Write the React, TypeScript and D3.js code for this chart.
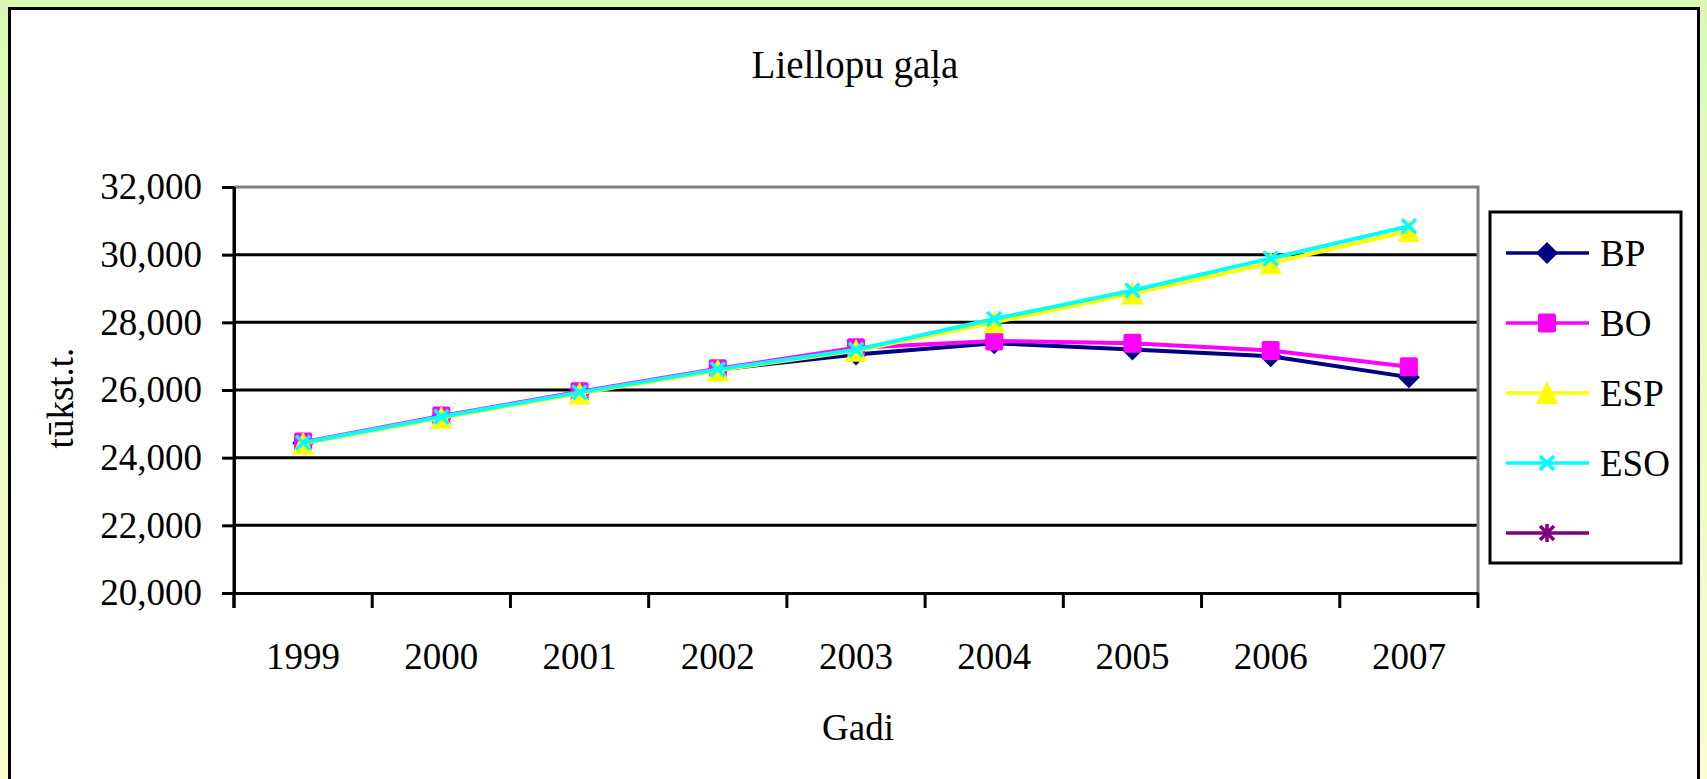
import React, { useEffect, useRef } from 'react';
import * as d3 from 'd3';

const years = ['1999', '2000', '2001', '2002', '2003', '2004', '2005', '2006', '2007'];
const bp = [24430, 25200, 25920, 26600, 27050, 27380, 27200, 27000, 26380];
const bo = [24460, 25230, 25950, 26630, 27250, 27450, 27380, 27170, 26690];
const esp = [24420, 25180, 25900, 26580, 27160, 28000, 28850, 29750, 30700];
const eso = [24440, 25210, 25930, 26610, 27190, 28100, 28940, 29890, 30840];
const yTicks = [20000, 22000, 24000, 26000, 28000, 30000, 32000];

const seriesList = [
  { name: 'BP', values: bp, color: '#000080', marker: 'diamond' },
  { name: 'BO', values: bo, color: '#ff00ff', marker: 'square' },
  { name: 'ESP', values: esp, color: '#ffff00', marker: 'triangle' },
  { name: 'ESO', values: eso, color: '#00ffff', marker: 'x' },
  { name: '', values: [] as number[], color: '#800080', marker: 'star' },
];

const FONT = '"Liberation Serif", "Times New Roman", serif';

function drawMarker(g: any, type: string, color: string) {
  if (type === 'diamond') {
    g.append('path').attr('d', 'M0,-11L11,0L0,11L-11,0Z').attr('fill', color);
  } else if (type === 'square') {
    g.append('rect').attr('x', -9).attr('y', -9.5).attr('width', 18).attr('height', 19)
      .attr('rx', 2).attr('fill', color);
  } else if (type === 'triangle') {
    g.append('path').attr('d', 'M0,-12L11,11L-11,11Z').attr('fill', color);
  } else if (type === 'x') {
    g.append('path').attr('d', 'M-7,-7L7,7M7,-7L-7,7')
      .attr('stroke', color).attr('stroke-width', 3.5).attr('fill', 'none');
  } else if (type === 'star') {
    g.append('path').attr('d', 'M-7,-7L7,7M7,-7L-7,7M0,-9L0,9')
      .attr('stroke', color).attr('stroke-width', 3.5).attr('fill', 'none');
  }
}

export default function App() {
  const ref = useRef<SVGSVGElement>(null);

  useEffect(() => {
    document.body.style.margin = '0';
    const svg = d3.select(ref.current);
    svg.selectAll('*').remove();

    const W = 1707, H = 779;
    const left = 234, right = 1478, top = 187, bottom = 593;

    const defs = svg.append('defs');
    const grad = defs.append('linearGradient').attr('id', 'bg').attr('x1', 0).attr('y1', 0).attr('x2', 0).attr('y2', 1);
    grad.append('stop').attr('offset', '0%').attr('stop-color', '#dcf8b8');
    grad.append('stop').attr('offset', '100%').attr('stop-color', '#fafdd0');

    svg.append('rect').attr('width', W).attr('height', H).attr('fill', 'url(#bg)');
    svg.append('rect').attr('x', 9.5).attr('y', 8.5).attr('width', 1689).attr('height', 820)
      .attr('fill', '#fff').attr('stroke', '#000').attr('stroke-width', 3);

    const x = d3.scaleBand().domain(years).range([left, right]).paddingInner(0).paddingOuter(0);
    const y = d3.scaleLinear().domain([20000, 32000]).range([bottom, top]);

    // title
    svg.append('text').attr('x', 855).attr('y', 78).attr('text-anchor', 'middle')
      .style('font-family', FONT).style('font-size', '39px').text('Liellopu gaļa');

    // gridlines
    svg.append('g').selectAll('line').data(yTicks.filter(t => t > 20000 && t < 32000)).join('line')
      .attr('x1', left).attr('x2', right).attr('y1', d => y(d)).attr('y2', d => y(d))
      .attr('stroke', '#000').attr('stroke-width', 3);

    // plot border top/right (grey)
    svg.append('path')
      .attr('d', `M${left},${top}L${right},${top}L${right},${bottom}`)
      .attr('fill', 'none').attr('stroke', '#808080').attr('stroke-width', 3);

    // y axis
    const yAxis = svg.append('g').attr('transform', `translate(${left},0)`)
      .call(d3.axisLeft(y).tickValues(yTicks).tickFormat(d3.format(',')).tickSizeInner(12).tickSizeOuter(0).tickPadding(20));
    yAxis.selectAll('path, line').attr('stroke', '#000').attr('stroke-width', 3);
    yAxis.selectAll('text').style('font-family', FONT).style('font-size', '37px').attr('fill', '#000');

    // x axis: labels from axis, ticks at band boundaries
    const xAxis = svg.append('g').attr('transform', `translate(0,${bottom})`)
      .call(d3.axisBottom(x).tickSize(0).tickPadding(50));
    xAxis.select('.domain').attr('stroke', '#000').attr('stroke-width', 3);
    xAxis.selectAll('text').style('font-family', FONT).style('font-size', '37px').attr('fill', '#000');
    const bounds = years.map(d => x(d) as number).concat([right]);
    svg.append('g').selectAll('line').data(bounds).join('line')
      .attr('x1', d => d).attr('x2', d => d).attr('y1', bottom).attr('y2', bottom + 15)
      .attr('stroke', '#000').attr('stroke-width', 3);
    svg.append('line').attr('x1', left).attr('x2', left).attr('y1', top).attr('y2', bottom + 15)
      .attr('stroke', '#000').attr('stroke-width', 3);

    // axis titles
    svg.append('text').attr('x', 858).attr('y', 740).attr('text-anchor', 'middle')
      .style('font-family', FONT).style('font-size', '37px').text('Gadi');
    svg.append('text').attr('transform', 'translate(73,398) rotate(-90)').attr('text-anchor', 'middle')
      .style('font-family', FONT).style('font-size', '37px').text('tūkst.t.');

    // series
    const cx = (i: number) => (x(years[i]) as number) + x.bandwidth() / 2;
    const line = d3.line<number>().x((d, i) => cx(i)).y(d => y(d));
    seriesList.forEach(s => {
      if (!s.values.length) return;
      svg.append('path').datum(s.values).attr('d', line)
        .attr('fill', 'none').attr('stroke', s.color).attr('stroke-width', 4).attr('stroke-linejoin', 'round');
      s.values.forEach((v, i) => {
        const g = svg.append('g').attr('transform', `translate(${cx(i)},${y(v)})`);
        drawMarker(g, s.marker, s.color);
      });
    });

    // legend
    const lg = svg.append('g');
    lg.append('rect').attr('x', 1490).attr('y', 212).attr('width', 191).attr('height', 351)
      .attr('fill', '#fff').attr('stroke', '#000').attr('stroke-width', 3);
    seriesList.forEach((s, i) => {
      const ly = 253 + i * 70;
      lg.append('line').attr('x1', 1506).attr('x2', 1589).attr('y1', ly).attr('y2', ly)
        .attr('stroke', s.color).attr('stroke-width', 3.5);
      drawMarker(lg.append('g').attr('transform', `translate(1547,${ly})`), s.marker, s.color);
      lg.append('text').attr('x', 1600).attr('y', ly + 13)
        .style('font-family', FONT).style('font-size', '37px').text(s.name);
    });
  }, []);

  return <svg ref={ref} width={1707} height={779} style={{ display: 'block' }} />;
}
